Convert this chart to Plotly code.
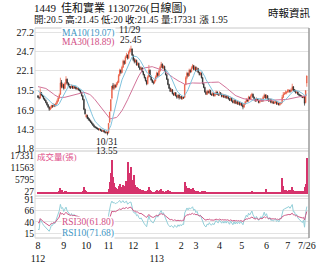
import plotly.graph_objects as go
import pandas as pd
import numpy as np

# ---------------- data ----------------
month_tick_idx = [0, 23, 43, 63, 85, 106, 128, 141, 162, 182, 204, 223, 240]
month_tick_text = ["8<br>112", "9", "10", "11", "12", "1<br>113", "2", "3", "4", "5", "6", "7", "7/26"]

# closes of the 30 sessions before the first shown day (only used to seed MA / RSI)
prior_closes = [19.2, 19.4, 19.3, 19.6, 19.8, 19.5, 19.7, 20.0, 20.3, 20.1,
                20.4, 20.8, 21.0, 20.7, 20.9, 21.2, 21.0, 20.6, 20.8, 20.5,
                20.2, 20.4, 20.0, 19.8, 19.9, 19.6, 19.4, 19.2, 19.0, 18.8]

opens = [
    # Aug
    18.8, 18.6, 18.5, 19.2, 18.9, 18.7, 18.4, 18.2, 17.9, 17.6, 17.3, 17.0, 17.2, 17.5, 17.4, 17.6, 17.5, 17.8, 18.1, 18.5, 19.0, 20.6, 20.0,
    # Sep
    20.3, 19.8, 20.4, 21.0, 20.5, 20.2, 20.0, 19.9, 20.1, 19.8, 20.0, 19.9, 19.7, 19.8, 19.6, 19.5, 19.2, 18.8, 18.3, 17.0,
    # Oct
    16.0, 16.2, 15.8, 15.7, 15.5, 15.3, 15.1, 14.9, 14.7, 14.6, 14.5, 14.4, 14.3, 14.4, 14.2, 14.1, 14.2, 14.0, 13.9, 14.0,
    # Nov
    13.9, 15.3, 16.8, 18.5, 20.2, 19.8, 20.2, 20.0, 20.4, 20.6, 21.5, 22.2, 21.9, 22.6, 23.4, 23.1, 23.9, 24.2, 23.8, 24.6, 24.9, 25.0,
    # Dec
    24.2, 23.6, 23.3, 23.5, 22.9, 23.1, 22.6, 22.3, 22.5, 22.0, 21.6, 21.2, 20.8, 20.4, 21.3, 22.2, 21.4, 20.9, 20.6, 20.5, 20.8,
    # Jan
    21.3, 21.8, 21.5, 22.1, 22.6, 23.0, 22.5, 22.7, 22.2, 21.6, 21.0, 20.3, 19.8, 19.4, 19.6, 19.1, 18.9, 19.2, 18.8, 18.6, 18.9, 18.5,
    # Feb
    18.7, 18.4, 18.6, 18.6, 20.3, 21.2, 21.8, 21.5, 22.2, 22.0, 22.5, 22.8, 22.3,
    # Mar
    22.6, 22.1, 22.4, 21.9, 21.6, 21.8, 21.2, 20.4, 19.9, 19.3, 19.0, 19.4, 19.2, 19.5, 19.0, 18.9, 19.1, 18.8, 19.0, 19.3, 19.0,
    # Apr
    18.9, 19.2, 19.0, 18.7, 18.9, 18.6, 18.8, 18.5, 18.7, 18.4, 18.2, 18.5, 18.1, 17.9, 18.2, 17.8, 18.0, 17.7, 17.9, 17.6,
    # May
    17.8, 17.5, 17.3, 17.7, 18.0, 18.3, 18.1, 18.6, 18.4, 18.8, 19.0, 18.6, 18.3, 18.1, 18.4, 18.2, 17.9, 18.1, 18.3, 18.1, 18.6, 18.9,
    # Jun
    18.5, 18.8, 18.4, 18.1, 18.3, 17.9, 18.0, 17.8, 17.9, 18.0, 17.7, 17.8, 17.6, 17.7, 17.9, 18.6, 19.0, 19.1, 19.2,
    # Jul
    19.3, 19.4, 19.5, 19.4, 19.6, 20.0, 19.6, 19.5, 19.2, 19.3, 19.0, 18.9, 18.8, 18.7, 18.55, 18.7, 17.9, 20.5,
]
highs = [
    18.9, 18.7, 19.8, 19.3, 19.0, 18.8, 18.5, 18.3, 18.0, 17.7, 17.4, 17.4, 17.6, 17.6, 17.8, 17.7, 17.9, 18.3, 18.7, 19.1, 21.2, 20.9, 20.5,
    20.4, 20.6, 21.4, 21.1, 20.6, 20.4, 20.1, 20.3, 20.2, 20.2, 20.1, 20.0, 19.9, 19.9, 19.7, 19.6, 19.3, 18.9, 18.4, 17.1,
    16.4, 16.3, 16.0, 15.8, 15.6, 15.4, 15.2, 15.0, 14.8, 14.7, 14.6, 14.5, 14.5, 14.4, 14.3, 14.3, 14.2, 14.1, 14.1, 14.0,
    15.15, 16.65, 18.3, 20.1, 20.5, 20.4, 20.3, 20.6, 20.8, 21.7, 22.4, 22.3, 22.8, 23.6, 23.5, 24.1, 24.5, 24.3, 24.8, 25.1, 25.45, 25.1,
    24.3, 23.8, 23.7, 23.6, 23.3, 23.2, 22.7, 22.7, 22.6, 22.1, 21.7, 21.3, 20.9, 21.5, 22.9, 22.3, 21.5, 21.0, 20.8, 21.0, 21.5,
    22.0, 21.9, 22.3, 22.8, 23.3, 23.1, 22.9, 22.8, 22.3, 21.7, 21.1, 20.4, 19.9, 19.8, 19.7, 19.2, 19.3, 19.3, 18.9, 19.0, 19.0, 18.8,
    18.8, 18.7, 18.7, 20.35, 21.4, 22.0, 21.9, 22.4, 22.3, 22.7, 23.0, 22.9, 22.8,
    22.7, 22.6, 22.5, 22.0, 22.0, 21.9, 21.3, 20.5, 20.0, 19.4, 19.6, 19.5, 19.7, 19.6, 19.1, 19.3, 19.2, 19.2, 19.5, 19.4, 19.1,
    19.4, 19.3, 19.1, 19.1, 19.0, 19.0, 18.9, 18.9, 18.8, 18.5, 18.7, 18.6, 18.2, 18.4, 18.3, 18.2, 18.1, 18.1, 18.0, 18.0,
    17.9, 17.6, 17.8, 18.1, 18.5, 18.4, 18.8, 18.7, 19.0, 19.2, 19.1, 18.7, 18.4, 18.6, 18.5, 18.3, 18.3, 18.5, 18.4, 18.8, 19.1, 19.0,
    19.0, 18.9, 18.5, 18.5, 18.4, 18.2, 18.1, 18.1, 18.2, 18.1, 18.0, 17.9, 18.0, 18.0, 18.9, 19.3, 19.3, 19.5, 19.4,
    19.7, 19.7, 19.6, 19.8, 20.4, 20.1, 19.7, 19.6, 19.5, 19.4, 19.1, 19.0, 18.9, 18.8, 18.8, 18.8, 19.5, 21.45,
]
lows = [
    18.5, 18.3, 18.4, 18.8, 18.6, 18.3, 18.1, 17.8, 17.5, 17.2, 16.8, 16.9, 17.1, 17.2, 17.3, 17.3, 17.4, 17.7, 18.0, 18.4, 18.9, 19.8, 19.8,
    19.6, 19.7, 20.3, 20.3, 20.0, 19.8, 19.7, 19.8, 19.7, 19.7, 19.7, 19.6, 19.6, 19.5, 19.4, 19.1, 18.7, 18.2, 16.9, 16.3,
    15.9, 15.7, 15.5, 15.4, 15.2, 15.0, 14.8, 14.6, 14.5, 14.4, 14.3, 14.2, 14.2, 14.1, 14.0, 14.0, 13.9, 13.8, 13.8, 13.55,
    13.8, 15.2, 16.7, 18.3, 19.6, 19.6, 19.8, 19.9, 20.2, 20.5, 21.4, 21.7, 21.8, 22.5, 22.9, 23.0, 23.8, 23.6, 23.7, 24.4, 24.6, 24.1,
    23.4, 23.1, 23.2, 22.8, 22.8, 22.5, 22.2, 22.2, 21.9, 21.5, 21.1, 20.7, 20.2, 20.3, 21.2, 21.3, 20.8, 20.5, 20.3, 20.4, 20.7,
    21.2, 21.3, 21.4, 22.0, 22.5, 22.4, 22.4, 22.1, 21.5, 20.9, 20.2, 19.7, 19.3, 19.3, 19.0, 18.8, 18.8, 18.7, 18.4, 18.5, 18.3, 18.4,
    18.3, 18.3, 18.4, 18.5, 20.2, 21.0, 21.3, 21.4, 21.8, 21.9, 22.4, 22.2, 22.2,
    22.0, 22.0, 21.8, 21.5, 21.5, 21.1, 20.3, 19.8, 19.2, 18.9, 18.9, 19.1, 19.1, 18.9, 18.8, 18.8, 18.7, 18.7, 18.9, 18.9, 18.8,
    18.8, 18.9, 18.6, 18.6, 18.5, 18.5, 18.4, 18.4, 18.3, 18.1, 18.1, 18.0, 17.8, 17.8, 17.7, 17.7, 17.6, 17.6, 17.5, 17.5,
    17.4, 17.0, 17.2, 17.6, 17.9, 18.0, 18.0, 18.3, 18.3, 18.7, 18.5, 18.2, 18.0, 18.0, 18.1, 17.8, 17.8, 18.0, 18.0, 18.0, 18.5, 18.4,
    18.4, 18.3, 18.0, 18.0, 17.8, 17.8, 17.7, 17.7, 17.8, 17.6, 17.6, 17.5, 17.5, 17.7, 17.8, 18.5, 18.9, 19.0, 19.0,
    19.2, 19.2, 19.2, 19.3, 19.5, 19.4, 19.3, 19.1, 19.1, 18.9, 18.8, 18.7, 18.6, 18.5, 18.5, 17.5, 17.8, 20.0,
]
closes = [
    18.6, 18.5, 19.3, 18.9, 18.7, 18.4, 18.2, 17.9, 17.6, 17.3, 17.0, 17.2, 17.5, 17.4, 17.6, 17.5, 17.8, 18.1, 18.5, 18.9, 20.5, 20.0, 20.3,
    19.8, 20.4, 21.0, 20.5, 20.2, 20.0, 19.9, 20.1, 19.8, 20.0, 19.9, 19.7, 19.8, 19.6, 19.5, 19.2, 18.8, 18.3, 17.0, 16.4,
    16.2, 15.8, 15.7, 15.5, 15.3, 15.1, 14.9, 14.7, 14.6, 14.5, 14.4, 14.3, 14.4, 14.2, 14.1, 14.2, 14.0, 13.9, 14.0, 13.8,
    15.15, 16.65, 18.3, 20.1, 19.8, 20.2, 20.0, 20.4, 20.6, 21.5, 22.2, 21.9, 22.6, 23.4, 23.1, 23.9, 24.2, 23.8, 24.6, 24.9, 25.0, 24.2,
    23.6, 23.3, 23.5, 22.9, 23.1, 22.6, 22.3, 22.5, 22.0, 21.6, 21.2, 20.8, 20.4, 21.3, 22.2, 21.4, 20.9, 20.6, 20.5, 20.8, 21.3,
    21.8, 21.5, 22.1, 22.6, 23.0, 22.5, 22.7, 22.2, 21.6, 21.0, 20.3, 19.8, 19.4, 19.6, 19.1, 18.9, 19.2, 18.8, 18.6, 18.9, 18.5, 18.7,
    18.4, 18.6, 18.5, 20.3, 21.2, 21.8, 21.5, 22.2, 22.0, 22.5, 22.8, 22.3, 22.6,
    22.1, 22.4, 21.9, 21.6, 21.8, 21.2, 20.4, 19.9, 19.3, 19.0, 19.4, 19.2, 19.5, 19.0, 18.9, 19.1, 18.8, 19.0, 19.3, 19.0, 18.9,
    19.2, 19.0, 18.7, 18.9, 18.6, 18.8, 18.5, 18.7, 18.4, 18.2, 18.5, 18.1, 17.9, 18.2, 17.8, 18.0, 17.7, 17.9, 17.6, 17.8,
    17.5, 17.3, 17.7, 18.0, 18.3, 18.1, 18.6, 18.4, 18.8, 19.0, 18.6, 18.3, 18.1, 18.4, 18.2, 17.9, 18.1, 18.3, 18.1, 18.6, 18.9, 18.5,
    18.8, 18.4, 18.1, 18.3, 17.9, 18.0, 17.8, 17.9, 18.0, 17.7, 17.8, 17.6, 17.9, 17.9, 18.6, 19.0, 19.1, 19.2, 19.3,
    19.5, 19.5, 19.4, 19.6, 20.0, 19.5, 19.5, 19.2, 19.3, 19.0, 18.9, 18.8, 18.7, 18.55, 18.7, 17.8, 19.5, 21.45,
]
volumes = [
    420, 380, 900, 520, 460, 380, 350, 420, 480, 520, 610, 450, 380, 340, 360, 300, 420, 560, 820, 1100, 2600, 1500, 900,
    700, 980, 1300, 800, 620, 500, 450, 420, 380, 400, 350, 330, 300, 320, 360, 450, 700, 1200, 3200, 1600,
    1400, 900, 700, 600, 520, 480, 600, 450, 420, 380, 360, 340, 320, 300, 330, 310, 350, 380, 420, 650,
    2200, 5800, 10000, 16500, 8200, 5000, 3200, 2600, 2400, 3500, 4500, 3000, 2700, 4200, 3100, 3800, 6000, 15200, 10200, 8500, 12800, 6800,
    5200, 9200, 4000, 3000, 2500, 2200, 2000, 1800, 1600, 1500, 1400, 1200, 1300, 1800, 3200, 1500, 1100, 900, 800, 900, 1200,
    1500, 1100, 1400, 1800, 2200, 1300, 1000, 900, 1100, 1300, 1500, 1200, 1000, 800, 900, 700, 650, 700, 600, 550, 700, 500,
    450, 500, 480, 5800, 3500, 2800, 2000, 2600, 1800, 2200, 2500, 1600, 1400,
    1300, 1100, 1000, 900, 850, 1000, 1400, 1200, 1000, 800, 700, 650, 600, 700, 550, 500, 600, 500, 650, 550, 500,
    600, 500, 450, 400, 480, 420, 380, 400, 350, 420, 380, 350, 450, 400, 380, 350, 420, 380, 360, 400,
    450, 600, 500, 550, 700, 500, 800, 600, 900, 1100, 700, 600, 500, 550, 450, 400, 420, 450, 400, 500, 650, 500,
    2400, 900, 700, 600, 500, 450, 400, 380, 420, 400, 380, 350, 420, 600, 7800, 3600, 1800, 1500, 1200,
    1300, 1500, 1200, 1600, 3000, 1800, 1400, 1200, 1000, 900, 1100, 800, 1300, 1000, 1200, 3400, 4600, 17331,
]

price_tick_vals = [11.8, 14.3, 16.9, 19.5, 22.1, 24.7, 27.2]
vol_tick_vals = [27, 5795, 11563, 17331]
rsi_tick_vals = [15, 40.33, 65.67, 91]
rsi_tick_text = ["15", "40", "66", "91"]

# ---------------- derived ----------------
n = len(closes)
idx = list(range(n))
full = pd.Series(prior_closes + closes)
ma10 = full.rolling(10).mean().iloc[len(prior_closes):].tolist()
ma30 = full.rolling(30).mean().iloc[len(prior_closes):].tolist()


def rsi(series, period):
    d = series.diff().fillna(0)
    up = d.clip(lower=0).ewm(alpha=1.0 / period, adjust=False).mean()
    dn = (-d.clip(upper=0)).ewm(alpha=1.0 / period, adjust=False).mean()
    return (100 * up / (up + dn)).fillna(50)


rsi10 = rsi(full, 10).iloc[len(prior_closes):].tolist()
rsi30 = rsi(full, 30).iloc[len(prior_closes):].tolist()

# ---------------- styling ----------------
UP = "#ea5a40"
DOWN = "#262626"
MA10_C = "#7fc3de"
MA30_C = "#d27399"
VOL_C = "#d6336c"
RSI30_C = "#cf5a88"
RSI10_C = "#93cfd9"
GRID = "#e3e3e3"
SERIF = "Liberation Serif, 'Noto Sans CJK TC', serif"
CJK = "'Liberation Serif', 'Noto Sans CJK TC', sans-serif"

W, H = 330, 264
L, R, T, B = 35, 21, 28, 26
PW, PH = W - L - R, H - T - B


def px(x, y):
    return (x - L) / PW, (H - B - y) / PH


def frac(y):
    return (H - B - y) / PH


fig = go.Figure()

fig.add_trace(go.Candlestick(
    x=idx, open=opens, high=highs, low=lows, close=closes,
    increasing=dict(line=dict(color=UP, width=0.7), fillcolor=UP),
    decreasing=dict(line=dict(color=DOWN, width=0.7), fillcolor=DOWN),
    whiskerwidth=0, xaxis="x", yaxis="y", showlegend=False, hoverinfo="skip"))
fig.add_trace(go.Scatter(x=idx, y=ma30, mode="lines", line=dict(color=MA30_C, width=1),
                         xaxis="x", yaxis="y", showlegend=False, hoverinfo="skip"))
fig.add_trace(go.Scatter(x=idx, y=ma10, mode="lines", line=dict(color=MA10_C, width=1),
                         xaxis="x", yaxis="y", showlegend=False, hoverinfo="skip"))

fig.add_trace(go.Bar(x=idx, y=volumes, marker=dict(color=VOL_C, line=dict(width=0)),
                     width=0.9, xaxis="x", yaxis="y2", showlegend=False, hoverinfo="skip"))

fig.add_trace(go.Scatter(x=idx, y=rsi10, mode="lines", line=dict(color=RSI10_C, width=1),
                         xaxis="x", yaxis="y3", showlegend=False, hoverinfo="skip"))
fig.add_trace(go.Scatter(x=idx, y=rsi30, mode="lines", line=dict(color=RSI30_C, width=1),
                         xaxis="x", yaxis="y3", showlegend=False, hoverinfo="skip"))

tickfont = dict(family=SERIF, size=10, color="#111")
smallfont = dict(family=SERIF, size=9.5, color="#111")

fig.update_layout(
    width=W, height=H,
    margin=dict(l=L, r=R, t=T, b=B, pad=0, autoexpand=False),
    paper_bgcolor="white", plot_bgcolor="white",
    bargap=0,
    xaxis=dict(range=[-2.68, 241.96], anchor="y3", showgrid=False, zeroline=False,
               tickmode="array", tickvals=month_tick_idx, ticktext=month_tick_text,
               tickfont=tickfont, ticks="", showline=False, automargin=False,
               rangeslider=dict(visible=False)),
    yaxis=dict(domain=[frac(151), 1], range=[11.47, 27.8], tickmode="array",
               tickvals=price_tick_vals, ticktext=[f"{v:.1f}" for v in price_tick_vals],
               showgrid=True, gridcolor=GRID, gridwidth=1, zeroline=False, automargin=False,
               tickfont=tickfont, ticks="", showline=False),
    yaxis2=dict(domain=[frac(196), frac(151)], range=[-1220, 20748], tickmode="array",
                tickvals=vol_tick_vals, ticktext=[str(v) for v in vol_tick_vals],
                showgrid=False, zeroline=False, tickfont=smallfont, ticks="", showline=False,
                automargin=False, ticklabelshift=-2),
    yaxis3=dict(domain=[0, frac(196)], range=[4, 96.5], tickmode="array",
                tickvals=rsi_tick_vals, ticktext=rsi_tick_text,
                showgrid=True, gridcolor=GRID, gridwidth=1, zeroline=False,
                tickfont=smallfont, ticks="", showline=False, automargin=False,
                ticklabelshift=1),
)

# panel frames
shapes = []
for y0 in [1, frac(151), frac(196), 0]:
    shapes.append(dict(type="line", xref="paper", yref="paper", x0=0, x1=1, y0=y0, y1=y0,
                       line=dict(color="#c8c8c8", width=1)))
shapes.append(dict(type="line", xref="paper", yref="paper", x0=0, x1=0, y0=0, y1=1,
                   line=dict(color="#d8d8d8", width=1)))
shapes.append(dict(type="line", xref="paper", yref="paper", x0=1, x1=1, y0=0, y1=1,
                   line=dict(color="#9a9a9a", width=1.5)))
fig.update_layout(shapes=shapes)


def ann(text, x, y, size=10, color="#111", anchor="left", bg=None, family=SERIF):
    xp, yp = px(x, y)
    d = dict(text=text, x=xp, y=yp, xref="paper", yref="paper", showarrow=False,
             xanchor=anchor, yanchor="middle", font=dict(family=family, size=size, color=color),
             borderpad=0)
    if bg:
        d["bgcolor"] = bg
    fig.add_annotation(**d)


# header
ann("1449", 33, 8, size=11)
ann("佳和實業 1130726(日線圖)", 60, 8, size=11, family=CJK)
ann("開:20.5 高:21.45 低:20 收:21.45 量:17331 漲 1.95", 33, 20, size=9.5, family=CJK)
ann("時報資訊", 267, 13, size=10.5, family=CJK)

# price legends & marks
ann("MA10(19.07)", 61, 33, size=9.5, color="#3f97c4", bg="white")
ann("MA30(18.89)", 61, 42, size=9.5, color="#d24f86", bg="white")
ann("11/29", 130, 30.5, size=9.5, anchor="center")
ann("25.45", 131, 39.5, size=9.5, anchor="center")
ann("10/31", 107, 142, size=9.5, anchor="center")
ann("13.55", 107, 151, size=9.5, anchor="center")

# volume label
ann("成交量(張)", 36, 157, size=8.5, color="#e0508a", family=CJK)

# RSI legends
ann("RSI30(61.80)", 61, 222.5, size=9.5, color="#d24f86", bg="white")
ann("RSI10(71.68)", 61, 233, size=9.5, color="#3f97c4", bg="white")

fig.write_html("out.html")
